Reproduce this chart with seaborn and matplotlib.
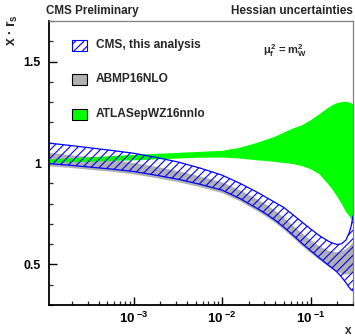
import numpy as np
import pandas as pd
import matplotlib
matplotlib.use("Agg")
import matplotlib.pyplot as plt
from matplotlib.patches import Rectangle
from matplotlib.ticker import LogLocator, MultipleLocator, FixedLocator, NullFormatter
import seaborn as sns

# ---- data ----
x_vals = [1.096e-4, 1.778e-4, 3.162e-4, 5.623e-4, 1.0e-3, 1.778e-3, 3.162e-3,
          5.623e-3, 1.0e-2, 1.585e-2, 2.512e-2, 3.162e-2, 3.981e-2, 5.012e-2,
          6.310e-2, 7.943e-2, 0.1, 0.1259, 0.1585, 0.1778, 0.1995, 0.2239,
          0.2512, 0.2754, 0.2884, 0.302]
cms_up = [1.098, 1.088, 1.075, 1.062, 1.048, 1.028, 1.005, 0.975, 0.94, 0.90,
          0.855, 0.83, 0.805, 0.78, 0.745, 0.71, 0.675, 0.642, 0.615, 0.605,
          0.598, 0.602, 0.62, 0.66, 0.69, 0.74]
cms_lo = [0.997, 0.99, 0.98, 0.97, 0.958, 0.94, 0.92, 0.895, 0.866, 0.825,
          0.775, 0.748, 0.718, 0.683, 0.645, 0.605, 0.568, 0.532, 0.497, 0.48,
          0.462, 0.438, 0.41, 0.385, 0.375, 0.37]
abmp_up = [1.05, 1.04, 1.03, 1.015, 1.0, 0.982, 0.96, 0.934, 0.905, 0.866,
           0.82, 0.795, 0.765, 0.73, 0.692, 0.655, 0.62, 0.59, 0.568, 0.562,
           0.56, 0.565, 0.575, 0.59, 0.6, 0.61]
abmp_lo = [0.984, 0.977, 0.967, 0.957, 0.944, 0.926, 0.906, 0.881, 0.852, 0.812,
           0.762, 0.735, 0.705, 0.67, 0.632, 0.593, 0.557, 0.522, 0.49, 0.476,
           0.465, 0.455, 0.45, 0.452, 0.455, 0.46]
atlas_up = [1.017, 1.022, 1.028, 1.034, 1.04, 1.045, 1.05, 1.055, 1.06, 1.075,
            1.10, 1.115, 1.13, 1.15, 1.17, 1.185, 1.21, 1.24, 1.272, 1.285,
            1.295, 1.30, 1.302, 1.298, 1.295, 1.29]
atlas_lo = [1.0, 1.003, 1.006, 1.01, 1.013, 1.018, 1.022, 1.026, 1.027, 1.022,
            1.013, 1.01, 1.005, 1.0, 0.995, 0.985, 0.97, 0.945, 0.895, 0.868,
            0.835, 0.80, 0.76, 0.737, 0.725, 0.715]
legend_labels = ["CMS, this analysis", "ABMP16NLO", "ATLASepWZ16nnlo"]
ytick_vals = [0.5, 1.0, 1.5]
ytick_labels = ["0.5", "1", "1.5"]
xtick_vals = [1e-3, 1e-2, 1e-1]
xtick_labels = [r"$\mathbf{10}^{\;\mathbf{-3}}$", r"$\mathbf{10}^{\;\mathbf{-2}}$",
                r"$\mathbf{10}^{\;\mathbf{-1}}$"]

sns.set_style("ticks")
plt.rcParams["font.family"] = ["Liberation Sans", "DejaVu Sans"]
plt.rcParams["font.weight"] = "bold"
plt.rcParams["mathtext.fontset"] = "custom"
plt.rcParams["mathtext.rm"] = "Liberation Sans:bold"
plt.rcParams["mathtext.it"] = "Liberation Sans:bold"
plt.rcParams["mathtext.bf"] = "Liberation Sans:bold"
plt.rcParams["hatch.linewidth"] = 0.8

df = pd.DataFrame({"x": x_vals, "cms_up": cms_up, "cms_lo": cms_lo})

fig = plt.figure(figsize=(3.55, 3.36), dpi=100)
ax = fig.add_axes([49 / 355, 31 / 336, 304 / 355, 284 / 336])

ax.fill_between(x_vals, abmp_lo, abmp_up, facecolor="#b0b0b0", edgecolor="none", zorder=1)
ax.fill_between(x_vals, atlas_lo, atlas_up, facecolor="#00ff00", edgecolor="none", zorder=2)
ax.fill_between(x_vals, cms_lo, cms_up, facecolor="none", edgecolor="#0000ff",
                hatch="////", linewidth=0, zorder=3)
sns.lineplot(data=df, x="x", y="cms_up", color="#0000ff", linewidth=0.9, ax=ax, zorder=4)
sns.lineplot(data=df, x="x", y="cms_lo", color="#0000ff", linewidth=0.9, ax=ax, zorder=4)

ax.set_xscale("log")
ax.set_xlim(1.1e-4, 0.302)
ax.set_ylim(0.3, 1.7)
ax.set_xlabel("")
ax.set_ylabel("")

ax.xaxis.set_major_locator(FixedLocator(xtick_vals))
ax.set_xticklabels(xtick_labels)
ax.xaxis.set_minor_locator(LogLocator(base=10, subs=np.arange(2, 10)))
ax.xaxis.set_minor_formatter(NullFormatter())
ax.yaxis.set_major_locator(FixedLocator(ytick_vals))
ax.set_yticklabels(ytick_labels)
ax.yaxis.set_minor_locator(MultipleLocator(0.1))

ax.tick_params(axis="both", which="major", direction="in", length=6, width=1.0,
               colors="black")
ax.tick_params(axis="y", which="major", labelsize=8.8, pad=6)
ax.tick_params(axis="x", which="major", labelsize=9.5, pad=4.5)
ax.tick_params(axis="both", which="minor", direction="in", length=3, width=0.9)
for lab in ax.get_xticklabels() + ax.get_yticklabels():
    lab.set_fontweight("bold")

for s in ["left", "bottom"]:
    ax.spines[s].set_color("black")
    ax.spines[s].set_linewidth(1.3)
for s in ["top", "right"]:
    ax.spines[s].set_color("#808080")
    ax.spines[s].set_linewidth(0.9)

# legend drawn in axes coordinates
box_x0 = (72.3 - 49) / 304
box_w = 15 / 304
box_h = 11 / 284
text_x = (95.7 - 49) / 304
rows_y = [55, 89.3, 124]
styles = [dict(facecolor="white", edgecolor="#0000ff", hatch="////", linewidth=0.8),
          dict(facecolor="#b0b0b0", edgecolor="black", linewidth=0.8),
          dict(facecolor="#00ff00", edgecolor="black", linewidth=0.8)]
for lab, yy, st in zip(legend_labels, rows_y, styles):
    yc = (315 - yy) / 284
    ax.add_patch(Rectangle((box_x0, yc - box_h / 2), box_w, box_h,
                           transform=ax.transAxes, zorder=6, **st))
    ax.text(text_x, yc, lab, transform=ax.transAxes, fontsize=8.6,
            fontweight="bold", va="center", ha="left", zorder=6)

ax.text((263 - 49) / 304, (315 - 61) / 284, r"$\mu_{f}^{2}$ = m$_{W}^{2}$",
        transform=ax.transAxes, fontsize=8, va="center", ha="left")

fig.text(45.5 / 355, 1 - 11 / 336, "CMS Preliminary", fontsize=8.4, fontweight="bold",
         ha="left", va="center")
fig.text(353 / 355, 1 - 11 / 336, "Hessian uncertainties", fontsize=8.5,
         fontweight="bold", ha="right", va="center")
fig.text(12 / 355, 1 - 30 / 336, r"x $\bullet$ r$_{s}$", fontsize=10,
         fontweight="bold", rotation=90, ha="center", va="center")
fig.text(348 / 355, 1 - 331.5 / 336, "x", fontsize=8.5, fontweight="bold",
         ha="center", va="center")

fig.savefig("out.png", dpi=100)
